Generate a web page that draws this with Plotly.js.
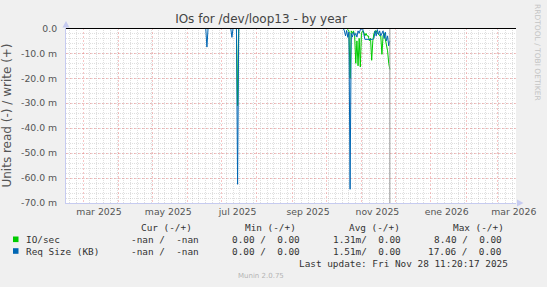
<!DOCTYPE html>
<html><head><meta charset="utf-8">
<script src="https://cdn.plot.ly/plotly-3.0.1.min.js"></script>
<style>html,body{margin:0;padding:0;background:#f0f0f0}</style>
</head><body>
<div id="chart" style="width:547px;height:287px"></div>
<script>
// ---- data (values in milli-units, read direction is negative) ----
const dates = [
  '2025-06-17','2025-06-18','2025-06-19', null,
  '2025-07-09','2025-07-10','2025-07-11','2025-07-12','2025-07-13','2025-07-14','2025-07-15','2025-07-16', null,
  '2025-10-16','2025-10-17','2025-10-18','2025-10-19','2025-10-20','2025-10-21','2025-10-22','2025-10-23',
  '2025-10-24','2025-10-25','2025-10-26','2025-10-27','2025-10-28','2025-10-29','2025-10-30','2025-10-31',
  '2025-11-01','2025-11-02','2025-11-03','2025-11-04','2025-11-05','2025-11-06','2025-11-07','2025-11-08',
  '2025-11-09','2025-11-10','2025-11-11','2025-11-12','2025-11-13','2025-11-14','2025-11-15','2025-11-16',
  '2025-11-17','2025-11-18','2025-11-19','2025-11-20','2025-11-21','2025-11-22','2025-11-23','2025-11-24',
  '2025-11-25','2025-11-26'
];
const ioSecRead = [
  0, 0, 0, null,
  0, 0, 0, 0, 0, 0, -31, 0, null,
  0, 0, 0, 0, -0.5, -1, -20, -1,
  -2, -1, -3, -14, -5, -15, -4, -15.5,
  -2, -1, -1.5, -3, -2, -3, -3, -5,
  -4, -12.8, -5, -2, -1, -1, -2, -2,
  -3, -3, -10.4, -3, -2, -4, -6, -9,
  -14, -16.5
];
const reqSizeRead = [
  0, -7.5, 0, null,
  0, -3.6, 0, 0, 0, 0, -62.5, 0, null,
  0, -1, -3, -0.8, -3.6, -1.5, -64.5, -2,
  -3.5, -1.5, -3, -2, -3.5, -1, -2, -0.5,
  -0.3, 0, -2, -4.4, -4.4, -4.4, -4.4, -4.4,
  -4.4, -4.4, -4.4, -4, -1, -3, -0.5, -2.5,
  -1, -3, -1.5, -1, -4, -1.5, -5, -3,
  -7, -5
];
const nowMarker = '2025-11-26';

const xRange = ['2025-02-14', '2026-03-17'];
const xTickVals = ['2025-03-15','2025-05-15','2025-07-15','2025-09-15','2025-11-15','2026-01-15','2026-03-15'];
const xTickText = ['mar 2025','may 2025','jul 2025','sep 2025','nov 2025','ene 2026','mar 2026'];
const yTickVals = [0, -10, -20, -30, -40, -50, -60, -70];
const yTickText = ['0.0','-10.0 m','-20.0 m','-30.0 m','-40.0 m','-50.0 m','-60.0 m','-70.0 m'];

const legendNames = ['IO/sec', 'Req Size (KB)'];
const legendColors = ['#00cc00', '#0066b3'];
const colHeaders = ['Cur (-/+)', 'Min (-/+)', 'Avg (-/+)', 'Max (-/+)'];
const curVals = ['-nan /  -nan', '-nan /  -nan'];
const minVals = ['0.00 /  0.00', '0.00 /  0.00'];
const avgVals = ['1.31m/  0.00', '1.51m/  0.00'];
const maxVals = ['8.40 /  0.00', '17.06 /  0.00'];
const lastUpdate = 'Last update: Fri Nov 28 11:20:17 2025';
const footer = 'Munin 2.0.75';
const sideText = 'RRDTOOL / TOBI OETIKER';
const titleText = 'IOs for /dev/loop13 - by year';
const yTitle = 'Units read (-) / write (+)';

// ---- geometry helpers ----
const W = 547, H = 287, L = 66, R = 31, T = 28, B = 84;
const PW = W - L - R, PH = H - T - B;
const px = p => (p - L) / PW;
const py = p => (H - B - p) / PH;
const nb = s => s.replace(/ /g, '\u00a0');

const mono = {family: 'DejaVu Sans Mono', size: 9.4, color: '#333'};
const ann = [];
function txt(x, y, s, anchor, font, extra) {
  ann.push(Object.assign({xref: 'paper', yref: 'paper', x: px(x), y: py(y), text: nb(s),
    showarrow: false, xanchor: anchor, yanchor: 'middle', font: font, borderpad: 0}, extra || {}));
}
const headX = [140, 244, 348, 452];
colHeaders.forEach((h, i) => txt(headX[i], 227.7, h, 'left', mono));
const rowY = [239.3, 251];
const colEnd = [200, 301, 402, 503];
legendNames.forEach((n, i) => {
  txt(25, rowY[i], n, 'left', mono);
  [curVals, minVals, avgVals, maxVals].forEach((arr, c) => txt(colEnd[c], rowY[i], arr[i], 'right', mono));
});
txt(509, 263.7, lastUpdate, 'right', mono);
txt(261, 276, footer, 'center', {family: 'DejaVu Sans', size: 7, color: '#b4b4b4'});
txt(538, 52, sideText, 'center', {family: 'DejaVu Sans', size: 7.5, color: '#c4c4c4'}, {textangle: 90});

const axisColor = '#c6cbf0';
const shapes = [];
legendNames.forEach((n, i) => shapes.push({type: 'rect', xref: 'paper', yref: 'paper',
  x0: px(13), x1: px(18.5), y0: py(rowY[i] - 2.8), y1: py(rowY[i] + 2.8),
  fillcolor: legendColors[i], line: {width: 0}}));
shapes.push({type: 'path', xref: 'paper', yref: 'paper', fillcolor: axisColor, line: {width: 0},
  path: `M${px(66)},${py(21)} L${px(62.5)},${py(27.5)} L${px(69.5)},${py(27.5)} Z`});
shapes.push({type: 'path', xref: 'paper', yref: 'paper', fillcolor: axisColor, line: {width: 0},
  path: `M${px(523.5)},${py(203)} L${px(517)},${py(199.5)} L${px(517)},${py(206.5)} Z`});

const traces = [
  {x: dates, y: ioSecRead, type: 'scatter', mode: 'lines', line: {color: legendColors[0], width: 1},
   connectgaps: false, xaxis: 'x', yaxis: 'y', hoverinfo: 'skip'},
  {x: dates, y: reqSizeRead, type: 'scatter', mode: 'lines', line: {color: legendColors[1], width: 1},
   connectgaps: false, xaxis: 'x', yaxis: 'y', hoverinfo: 'skip'},
  {x: [nowMarker, nowMarker], y: [0, -70], type: 'scatter', mode: 'lines',
   line: {color: '#999999', width: 1}, xaxis: 'x2', yaxis: 'y', hoverinfo: 'skip'}
];

const redGrid = 'rgba(235,110,110,0.4)';
const grayGrid = 'rgba(170,170,170,0.38)';
const tickFont = {family: 'DejaVu Sans', size: 9.3, color: '#555'};

const layout = {
  width: W, height: H,
  margin: {l: L, r: R, t: T, b: B, pad: 0},
  paper_bgcolor: '#f0f0f0', plot_bgcolor: '#ffffff',
  showlegend: false,
  font: {family: 'DejaVu Sans', color: '#555'},
  title: {text: titleText, x: 261 / W, xref: 'container', xanchor: 'center',
    y: 1 - 19 / H, yref: 'container', yanchor: 'middle',
    font: {family: 'DejaVu Sans', size: 12, color: '#444'}},
  xaxis: {type: 'date', range: xRange, tickmode: 'linear', tick0: '2025-03-01', dtick: 'M1',
    showticklabels: false, ticks: '', showgrid: true, gridcolor: redGrid, griddash: '2px,2px', gridwidth: 1,
    minor: {tickmode: 'linear', tick0: '2025-03-01', dtick: 6 * 86400000, showgrid: true,
      gridcolor: grayGrid, griddash: '1px,1px', gridwidth: 1, ticks: ''},
    showline: true, linecolor: axisColor, linewidth: 1, zeroline: false, fixedrange: true},
  xaxis2: {type: 'date', range: xRange, overlaying: 'x', anchor: 'y', side: 'bottom',
    tickmode: 'array', tickvals: xTickVals, ticktext: xTickText, tickfont: tickFont,
    ticks: '', showgrid: false, showline: false, zeroline: false, ticklabelstandoff: 2, fixedrange: true},
  yaxis: {range: [-70, 0.15], tickmode: 'array', tickvals: yTickVals, ticktext: yTickText,
    tickfont: tickFont, ticks: '', ticklabelstandoff: 6,
    showgrid: true, gridcolor: redGrid, griddash: '2px,2px', gridwidth: 1,
    minor: {tickmode: 'linear', tick0: 0, dtick: 2, showgrid: true, gridcolor: grayGrid,
      griddash: '1px,1px', gridwidth: 1, ticks: ''},
    zeroline: true, zerolinecolor: '#000000', zerolinewidth: 1, zerolinelayer: 'above traces',
    showline: true, linecolor: axisColor, linewidth: 1,
    title: {text: yTitle, font: {family: 'DejaVu Sans', size: 12, color: '#555'}, standoff: 8},
    fixedrange: true},
  annotations: ann,
  shapes: shapes
};

Plotly.newPlot('chart', traces, layout, {displayModeBar: false, staticPlot: true});
</script>
</body></html>
